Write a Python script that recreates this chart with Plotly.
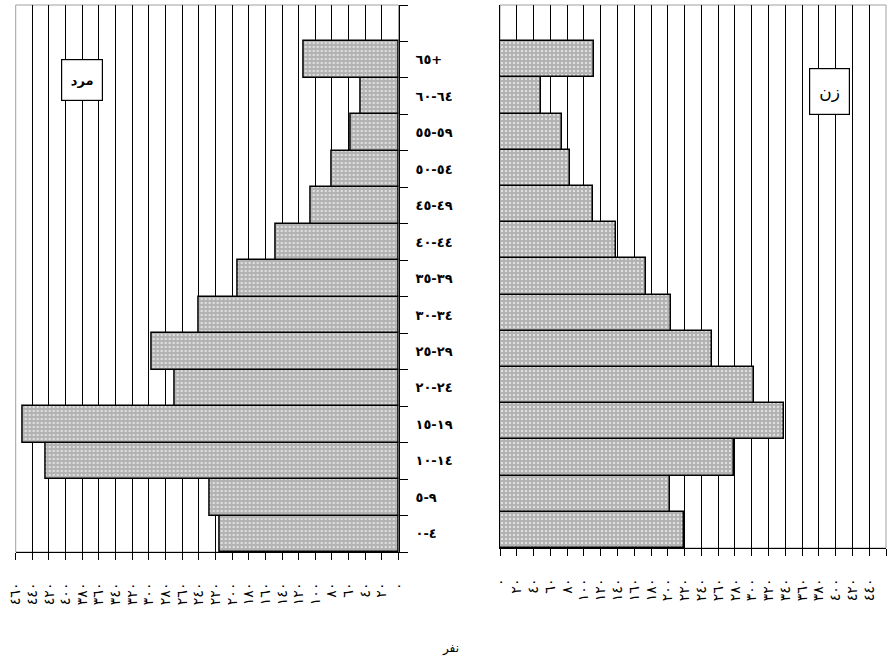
import plotly.graph_objects as go

# ---------------- data ----------------
age_groups = ["٠-٤", "٥-٩", "١٠-١٤", "١٥-١٩", "٢٠-٢٤", "٢٥-٢٩", "٣٠-٣٤",
              "٣٥-٣٩", "٤٠-٤٤", "٤٥-٤٩", "٥٠-٥٤", "٥٥-٥٩", "٦٠-٦٤", "٦٥+"]
male = [215, 227, 424, 452, 269, 296, 240, 193, 148, 106, 80, 58, 46, 114]
female = [219, 203, 279, 339, 303, 253, 204, 174, 138, 111, 83, 74, 49, 112]

tick_values = [0, 20, 40, 60, 80, 100, 120, 140, 160, 180, 200, 220, 240,
               260, 280, 300, 320, 340, 360, 380, 400, 420, 440, 460]
tick_labels = ["٠", "٢٠", "٤٠", "٦٠", "٨٠", "١٠٠", "١٢٠", "١٤٠", "١٦٠", "١٨٠",
               "٢٠٠", "٢٢٠", "٢٤٠", "٢٦٠", "٢٨٠", "٣٠٠", "٣٢٠", "٣٤٠", "٣٦٠",
               "٣٨٠", "٤٠٠", "٤٢٠", "٤٤٠", "٤٦٠"]

male_label = "مرد"
female_label = "زن"
x_title = "نفر"

# ---------------- figure ----------------
W, H = 891, 665
FONT = "DejaVu Sans"

y_pos = list(range(len(age_groups)))
y_text = ["\u202d" + g + "\u202c" for g in age_groups]
boundaries = [i - 0.5 for i in range(len(age_groups) + 2)]
y_range = [-0.5, len(age_groups) + 0.5]

bar_marker = dict(
    color="#b4b4b4",
    line=dict(color="black", width=1.5),
    pattern=dict(shape=".", fgcolor="#f0f0f0", bgcolor="#b3b3b3",
                 size=4, solidity=0.2),
)

fig = go.Figure()
fig.add_trace(go.Bar(x=male, y=y_pos, orientation="h", marker=bar_marker,
                     xaxis="x", yaxis="y", showlegend=False))
fig.add_trace(go.Bar(x=female, y=y_pos, orientation="h", marker=bar_marker,
                     xaxis="x2", yaxis="y2", showlegend=False))


def px_x(v):
    return v / W


def px_y(v):
    return (H - v) / H


common_x = dict(
    tickmode="array", tickvals=tick_values, ticktext=tick_labels,
    tickangle=-90, ticks="outside", ticklen=7, tickcolor="black", tickwidth=1,
    showgrid=True, gridcolor="black", gridwidth=1,
    showline=True, linecolor="black", linewidth=1,
    zeroline=False, ticklabelstandoff=17, automargin=False,
    tickfont=dict(family=FONT, size=14, color="black"),
    fixedrange=True,
)

fig.update_layout(
    template="none",
    width=W, height=H,
    margin=dict(l=0, r=0, t=0, b=0, pad=0),
    paper_bgcolor="white", plot_bgcolor="white",
    bargap=0,
    xaxis=dict(domain=[px_x(15.7), px_x(398.5)], range=[460, 0], anchor="y",
               **common_x),
    xaxis2=dict(domain=[px_x(500), px_x(886)], range=[0, 460], anchor="y2",
                **common_x),
    # left panel axis: boundary ticks + axis line
    yaxis=dict(domain=[px_y(552), px_y(5)], range=y_range,
               anchor="x", side="right",
               tickmode="array", tickvals=boundaries, showticklabels=False,
               ticks="outside", ticklen=8, tickcolor="black", tickwidth=1,
               showgrid=False, zeroline=False, automargin=False,
               showline=True, linecolor="black", linewidth=1,
               fixedrange=True),
    # overlay axis carrying the age-group labels
    yaxis3=dict(overlaying="y", anchor="x", side="right", range=y_range,
                tickmode="array", tickvals=y_pos, ticktext=y_text,
                ticks="", ticklabelstandoff=16, showline=False,
                showgrid=False, zeroline=False, automargin=False,
                tickfont=dict(family=FONT, size=13, color="black", weight="bold"),
                fixedrange=True),
    yaxis2=dict(domain=[px_y(548), px_y(5)], range=y_range,
                anchor="x2", showticklabels=False, ticks="",
                showgrid=False, zeroline=False, automargin=False,
                showline=True, linecolor="black", linewidth=1,
                fixedrange=True),
)

# invisible trace so that the label axis is drawn
fig.add_trace(go.Bar(x=[None] * len(y_pos), y=y_pos, orientation="h",
                     xaxis="x", yaxis="y3", showlegend=False,
                     hoverinfo="skip", marker=dict(color="rgba(0,0,0,0)")))

# panel borders (grey frame)
for xr, yr in (("x domain", "y domain"), ("x2 domain", "y2 domain")):
    fig.add_shape(type="rect", xref=xr, yref=yr, x0=0, x1=1, y0=0, y1=1,
                  line=dict(color="#a0a0a0", width=1), layer="below")

fig.add_annotation(text=male_label, xref="paper", yref="paper",
                   x=px_x(82), y=px_y(80), xanchor="center", yanchor="middle",
                   showarrow=False,
                   font=dict(family=FONT, size=13, color="black", weight="bold"),
                   bgcolor="white", bordercolor="black", borderwidth=1.2,
                   width=38, height=38)
fig.add_annotation(text=female_label, xref="paper", yref="paper",
                   x=px_x(829.5), y=px_y(91.5), xanchor="center", yanchor="middle",
                   showarrow=False,
                   font=dict(family=FONT, size=17, color="black"),
                   bgcolor="white", bordercolor="black", borderwidth=1.2,
                   width=37, height=43)
fig.add_annotation(text=x_title, xref="paper", yref="paper",
                   x=px_x(450), y=px_y(648), xanchor="center", yanchor="middle",
                   showarrow=False,
                   font=dict(family=FONT, size=12, color="black"))

fig.write_html("out.html",
               config={"displayModeBar": False},
               post_script="document.body.style.margin='0';document.body.style.overflow='hidden';")
